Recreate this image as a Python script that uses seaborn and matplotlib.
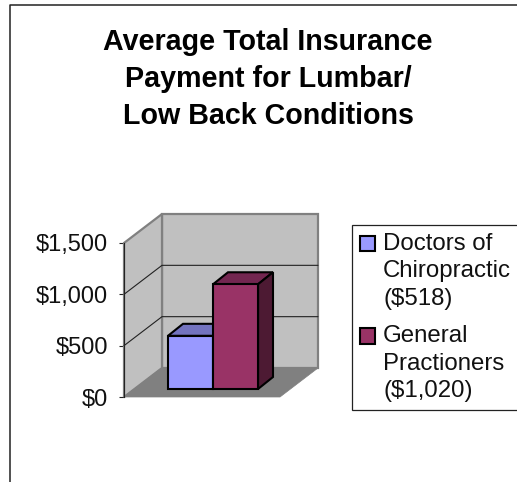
import matplotlib
matplotlib.use("Agg")
import matplotlib.pyplot as plt
from matplotlib.patches import Polygon
from matplotlib.lines import Line2D
from matplotlib.ticker import FixedLocator
from matplotlib.transforms import Affine2D
import seaborn as sns

# Values
categories = ["Doctors of\nChiropractic\n($518)", "General\nPractioners\n($1,020)"]
payments = [518, 1020]
bar_colors = ["#9999FF", "#993366"]
top_colors = ["#7373BF", "#732650"]
side_colors = ["#4D4D80", "#4D1A33"]
y_ticks = [0, 500, 1000, 1500]
y_tick_labels = ["$0", "$500", "$1,000", "$1,500"]
title = "Average Total Insurance\nPayment for Lumbar/\nLow Back Conditions"

W, H = 517, 482
X_UNIT = 45  # pixels per category
Y_UNIT = 154 / 1500  # pixels per dollar

sns.set_theme(style="white")
plt.rcParams["font.family"] = ["Liberation Sans", "DejaVu Sans"]

fig = plt.figure(figsize=(W / 100, H / 100), dpi=100, facecolor="white")

# Outline of the chart area, open to the right and bottom
fig.add_artist(Line2D([10 / W, 10 / W, 1], [0, 1 - 5 / H, 1 - 5 / H], color="#222222", lw=1.1))

fig.text(268 / W, 1 - 79 / H, title, ha="center", va="center", fontsize=20.6,
         fontweight="bold", color="black", linespacing=1.395)

# Axes: $0 at y=397px, $1,500 at y=243px, x from 124 to 280px
ax = fig.add_axes([124 / W, 1 - 397 / H, 156 / W, 154 / H])
ax.set_facecolor("none")

sns.barplot(x=categories, y=payments, hue=categories, palette=bar_colors, width=1,
            saturation=1, edgecolor="black", linewidth=1.5, ax=ax, zorder=5, legend=True)

x0 = -0.5 - 44 / X_UNIT
x1 = 1.5 + 22 / X_UNIT
ax.set_xlim(x0, x1)
ax.set_ylim(0, 1500)

# Walls and floor of the 3D box
dx = 38 / X_UNIT
dy = 29 / Y_UNIT
wall_kw = dict(clip_on=False, joinstyle="miter")
ax.add_patch(Polygon([(x0 + dx, dy), (x1 + dx, dy), (x1 + dx, 1500 + dy), (x0 + dx, 1500 + dy)],
                     fc="#C0C0C0", ec="#808080", lw=1.6, zorder=1, **wall_kw))
ax.add_patch(Polygon([(x0, 0), (x0 + dx, dy), (x0 + dx, 1500 + dy), (x0, 1500)],
                     fc="#C0C0C0", ec="#808080", lw=1.6, zorder=1, **wall_kw))
ax.add_patch(Polygon([(x0, 0), (x1, 0), (x1 + dx, dy), (x0 + dx, dy)],
                     fc="#808080", ec="#808080", lw=0.5, zorder=2, **wall_kw))
for tick in y_ticks[1:-1]:
    ax.plot([x0, x0 + dx, x1 + dx], [tick, tick + dy, tick + dy], color="#222222", lw=0.8,
            clip_on=False, zorder=3)

# Bars stand 8px up from the front edge of the floor, with depth faces behind them
lift = ax.transData + Affine2D().translate(0, 8)
bdx = 15 / X_UNIT
bdy = 12 / Y_UNIT
for i, bar in enumerate(ax.patches[:2]):
    bar.set_transform(lift)
    bar.set_clip_on(False)
    bar.set_joinstyle("miter")
    left, right = bar.get_x(), bar.get_x() + bar.get_width()
    top = bar.get_height()
    ax.add_patch(Polygon([(right, 0), (right + bdx, bdy), (right + bdx, top + bdy), (right, top)],
                         fc=side_colors[i], ec="black", lw=1.5, transform=lift, clip_on=False,
                         zorder=5 + i * 0.1))
    ax.add_patch(Polygon([(left, top), (left + bdx, top + bdy), (right + bdx, top + bdy), (right, top)],
                         fc=top_colors[i], ec="black", lw=1.5, transform=lift, clip_on=False,
                         zorder=4.5 + i * 0.1))
    bar.set_zorder(6 + i * 0.1)

ax.set_xticks([])
ax.yaxis.set_major_locator(FixedLocator(y_ticks))
ax.set_yticklabels(y_tick_labels)
ax.tick_params(axis="y", left=True, length=3.6, width=0.8, color="#222222", pad=8,
               labelsize=17, labelcolor="#111111")
sns.despine(ax=ax, top=True, right=True, bottom=True)
ax.spines["left"].set_color("#222222")
ax.spines["left"].set_linewidth(0.8)
ax.spines["left"].set_zorder(4)

# Legend box runs off the right edge as in the picture
sns.move_legend(ax, "upper left", bbox_to_anchor=(352 / W, 1 - 225 / H),
                bbox_transform=fig.transFigure, title=None, frameon=True, fancybox=False,
                edgecolor="#222222", framealpha=1, fontsize=17.3, borderaxespad=0,
                borderpad=0.33, handlelength=0.62, handleheight=0.62, handletextpad=0.35,
                labelspacing=0.65, labelcolor="#111111")
legend = ax.get_legend()
legend.get_frame().set_linewidth(0.9)
legend.set_clip_on(False)
for text in legend.get_texts():
    text.set_linespacing(1.32)
# Swatches sit on the first line of each label
for handle in legend.legend_handles:
    handle.set_y(handle.get_y() + 20.2)

fig.savefig("out.png", dpi=100)
